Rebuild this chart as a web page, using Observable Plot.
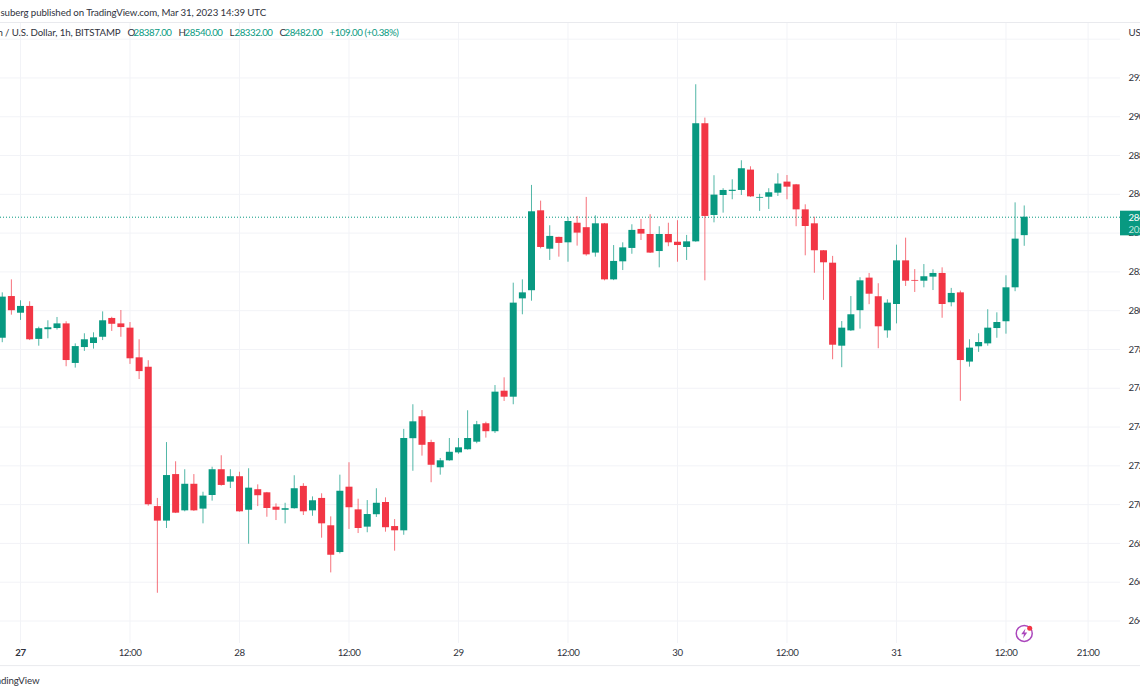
<!DOCTYPE html>
<html>
<head>
<meta charset="utf-8">
<style>html,body{margin:0;padding:0;background:#fff;overflow:hidden}svg{display:block}svg text{letter-spacing:-0.1px}</style>
<script src="https://cdn.jsdelivr.net/npm/d3@7"></script>
<script src="https://cdn.jsdelivr.net/npm/@observablehq/plot@0.6"></script>
</head>
<body>
<script>
// Hourly BTC/USD candles; the first one is two hours before 27 March 00:00 UTC
const firstHour = -2;
const opens = [27858,28073,27987,28022,27852,27902,27908,27932,27728,27810,27831,27863,27960,27932,27910,27757,27709,26990,26915,27155,26968,27105,26977,27047,27180,27116,27144,26971,27077,27061,26987,26971,26979,27094,26968,27032,26891,26753,27090,26973,26884,26948,27011,26887,26865,27340,27453,27320,27190,27226,27267,27283,27322,27417,27376,27585,27554,28061,28103,28515,28317,28378,28350,28451,28428,28297,28448,28159,28252,28321,28419,28393,28305,28393,28353,28326,28355,28964,28491,28594,28615,28620,28725,28580,28585,28606,28663,28649,28520,28448,28309,28245,27817,27896,28000,28168,28072,27896,28032,28257,28156,28152,28173,28192,28041,28092,27735,27814,27829,27908,27943,28118,28387];
const highs = [28092,28159,28051,28046,27915,27948,27965,27943,27829,27881,27886,27994,27966,28001,27939,27850,27742,27032,27320,27221,27180,27155,27064,27193,27252,27180,27167,27185,27102,27063,27004,27007,27149,27108,27040,27056,26937,27152,27216,27028,27021,27082,27035,26923,27388,27515,27485,27332,27238,27341,27341,27484,27429,27425,27614,27654,28142,28159,28646,28565,28438,28379,28479,28486,28584,28489,28450,28336,28350,28443,28470,28495,28433,28451,28464,28388,29165,28993,28696,28629,28675,28773,28742,28600,28629,28706,28697,28651,28546,28482,28310,28280,27944,28073,28170,28192,28139,28056,28338,28374,28212,28238,28211,28221,28115,28101,27850,27881,28005,27989,28180,28556,28540];
const lows = [27835,27977,27950,27846,27817,27855,27900,27711,27704,27790,27802,27846,27893,27863,27723,27645,26992,26543,26877,26954,26963,26965,26901,27018,27095,27083,26961,26796,26990,26935,26918,26901,26977,26944,26940,26827,26648,26746,26872,26851,26855,26934,26858,26760,26842,27172,27250,27113,27152,27224,27260,27281,27314,27343,27367,27532,27515,27979,28049,28319,28259,28276,28250,28333,28281,28276,28154,28155,28207,28291,28362,28295,28221,28330,28250,28259,28353,28154,28453,28503,28572,28594,28584,28512,28522,28589,28572,28433,28283,28193,28053,27747,27706,27893,27905,28031,27804,27858,27932,28125,28094,28118,28104,27961,28020,27533,27709,27785,27817,27858,27879,28098,28332];
const closes = [28070,28000,28022,27850,27907,27912,27932,27743,27815,27850,27860,27948,27930,27913,27752,27686,26999,26915,27150,26956,27105,26968,27044,27180,27099,27144,26963,27085,27046,26980,26971,26979,27082,26963,27020,26901,26739,27069,26984,26877,26949,27007,26881,26865,27341,27427,27306,27203,27226,27270,27293,27341,27412,27376,27580,27554,28039,28092,28510,28326,28383,28347,28460,28400,28288,28448,28159,28254,28324,28414,28395,28297,28393,28350,28336,28355,28964,28486,28596,28620,28621,28732,28587,28584,28608,28653,28637,28520,28434,28309,28247,27822,27910,27979,28154,28085,27917,28039,28257,28152,28152,28175,28192,28032,28089,27743,27807,27836,27910,27939,28118,28369,28482];

const timeTickHours = [0,12,24,36,48,60,72,84,96,108,117];
const timeTickLabels = ["27","12:00","28","12:00","29","12:00","30","12:00","31","12:00","21:00"];
const priceTicks = [26400,26600,26800,27000,27200,27400,27600,27800,28000,28200,28400,28600,28800,29000,29200];
const priceGrid = [...priceTicks, 29400];

const lastClose = 28482;
const lastChange = "+109.00 (+0.38%)";

const GREEN = "#089981", RED = "#f23645", INK = "#2f323c", GRID = "#f2f3f7", PURPLE = "#ab47bc";
const FONT = "Lato, 'Open Sans', sans-serif";
const TEXT_SIZE = 9.7;

const hour = h => new Date(Date.UTC(2023, 2, 27) + h * 36e5);
const candles = opens.map((open, i) => ({
  t: hour(firstHour + i), open, close: closes[i], high: highs[i], low: lows[i],
  color: closes[i] >= open ? GREEN : RED
}));
const domainStart = -2.192, domainEnd = 120.55, pageEnd = 122.75;

const label = (text, x, y, opts = {}) => Plot.text([text], {
  frameAnchor: "top-left", text: d => d, dx: x, dy: y - 22,
  textAnchor: "start", lineAnchor: "middle", fontSize: TEXT_SIZE, fill: INK, ...opts
});

const bolt = {draw(c, size) {
  const r = Math.sqrt(size / Math.PI);
  c.moveTo(0.25 * r, -r); c.lineTo(-0.6 * r, 0.18 * r); c.lineTo(-0.05 * r, 0.18 * r);
  c.lineTo(-0.25 * r, r); c.lineTo(0.6 * r, -0.18 * r); c.lineTo(0.05 * r, -0.18 * r); c.closePath();
}};

const chart = Plot.plot({
  width: 1140, height: 694,
  marginTop: 22, marginBottom: 51, marginLeft: 0, marginRight: 20,
  style: {fontFamily: FONT, fontSize: "10px", background: "#fff", overflow: "hidden"},
  x: {type: "utc", domain: [hour(domainStart), hour(domainEnd)]},
  y: {domain: [26284, 29486]},
  color: {type: "identity"},
  marks: [
    Plot.gridY(priceGrid, {stroke: GRID, strokeOpacity: 1}),
    Plot.gridX(timeTickHours.map(hour), {stroke: GRID, strokeOpacity: 1}),
    Plot.ruleY([29486, 26170], {stroke: "#e9eaee", insetRight: -20}),
    Plot.axisY(priceTicks, {anchor: "right", label: null, tickSize: 0, tickPadding: 8, textAnchor: "start",
      tickFormat: d => d.toFixed(2), fill: INK, fontSize: TEXT_SIZE}),
    Plot.axisX(timeTickHours.slice(1).map(hour), {anchor: "bottom", label: null, tickSize: 0, tickPadding: 6,
      tickFormat: d => timeTickLabels[timeTickHours.indexOf((d - hour(0)) / 36e5)], fill: INK, fontSize: TEXT_SIZE}),
    Plot.axisX([hour(0)], {anchor: "bottom", label: null, tickSize: 0, tickPadding: 6,
      tickFormat: () => timeTickLabels[0], fill: INK, fontSize: TEXT_SIZE, fontWeight: "bold"}),
    Plot.ruleY([lastClose], {stroke: GREEN, strokeDasharray: "1,2", insetRight: 0}),
    Plot.ruleX(candles, {x: "t", y1: "low", y2: "high", stroke: "color", strokeWidth: 1, strokeOpacity: 0.7}),
    Plot.ruleX(candles, {x: "t", y1: "open", y2: "close", stroke: "color", strokeWidth: 7}),
    // last-price tag on the price scale
    Plot.rect([lastClose], {x1: () => hour(domainEnd), x2: () => hour(pageEnd), y1: 28386, y2: 28513, fill: GREEN}),
    label(lastClose.toFixed(2), 1128, 217, {fill: "#fff"}),
    label("20:41", 1128, 229, {fill: "#bfe6dc"}),
    label("USD", 1128, 32),
    // header lines
    label("suberg published on TradingView.com, Mar 31, 2023 14:39 UTC", 0, 12),
    label("Bitcoin / U.S. Dollar, 1h, BITSTAMP", 120, 32, {textAnchor: "end"}),
    label("O", 127, 32), label("28387.00", 133, 32, {fill: GREEN}),
    label("H", 178, 32), label("28540.00", 184, 32, {fill: GREEN}),
    label("L", 229, 32), label("28332.00", 234, 32, {fill: GREEN}),
    label("C", 279, 32), label("28482.00", 284, 32, {fill: GREEN}),
    label(lastChange, 329, 32, {fill: GREEN}),
    label("TradingView", 39, 680, {textAnchor: "end"}),
    // lightning icon
    Plot.dot([0], {x: () => hour(110), y: () => 26336, r: 8, stroke: PURPLE, strokeWidth: 1.5, fill: "none"}),
    Plot.dot([0], {x: () => hour(110), y: () => 26336, r: 5, symbol: bolt, fill: PURPLE, stroke: "none"}),
    Plot.dot([0], {x: () => hour(110.6), y: () => 26363, r: 2.5, fill: RED, stroke: "none"})
  ]
});
// the reference's numerals are narrower than Lato's
for (const t of chart.querySelectorAll("text")) {
  if (/^[+\d]/.test(t.textContent)) t.style.letterSpacing = "-0.45px";
}
document.body.append(chart);
</script>
</body>
</html>
